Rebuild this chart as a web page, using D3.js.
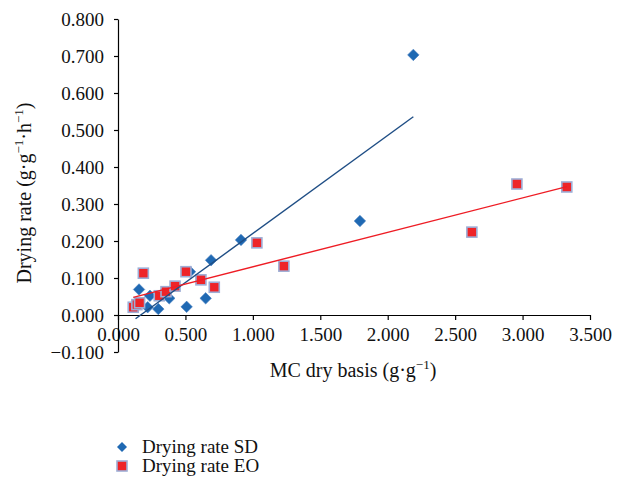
<!DOCTYPE html>
<html>
<head>
<meta charset="utf-8">
<script src="https://cdn.jsdelivr.net/npm/d3@7"></script>
<style>
  body { margin: 0; background: #fff; }
  svg { display: block; font-family: "Liberation Serif", "DejaVu Serif", serif; }
</style>
</head>
<body>
<div id="chart"></div>
<script>
// SD series (blue diamonds)
const sdX = [0.13, 0.156, 0.22, 0.237, 0.299, 0.38, 0.509, 0.534, 0.65, 0.69, 0.912, 1.794, 2.19];
const sdY = [0.030, 0.069, 0.021, 0.052, 0.016, 0.045, 0.022, 0.117, 0.045, 0.148, 0.203, 0.254, 0.703];

// EO series (red squares)
const eoX = [0.113, 0.14, 0.16, 0.188, 0.306, 0.356, 0.423, 0.504, 0.615, 0.714, 1.03, 1.23, 2.624, 2.958, 3.328];
const eoY = [0.021, 0.028, 0.033, 0.113, 0.052, 0.063, 0.078, 0.117, 0.095, 0.075, 0.195, 0.132, 0.224, 0.354, 0.346];

const xTicks = [0, 0.5, 1, 1.5, 2, 2.5, 3, 3.5];
const yTicks = [-0.1, 0, 0.1, 0.2, 0.3, 0.4, 0.5, 0.6, 0.7, 0.8];

const width = 628;
const height = 485;

const x = d3.scaleLinear().domain([0, 3.5]).range([118, 590]);
const y = d3.scaleLinear().domain([-0.1, 0.8]).range([352, 19]);

const svg = d3.create("svg")
    .attr("width", width)
    .attr("height", height);

const sd = sdX.map((v, i) => ({ x: v, y: sdY[i] }));
const eo = eoX.map((v, i) => ({ x: v, y: eoY[i] }));

// least squares fit, drawn over the x range of the series
function linearFit(pts) {
    const mx = d3.mean(pts, d => d.x);
    const my = d3.mean(pts, d => d.y);
    const sxy = d3.sum(pts, d => (d.x - mx) * (d.y - my));
    const sxx = d3.sum(pts, d => (d.x - mx) ** 2);
    const b = sxy / sxx;
    const a = my - b * mx;
    const [x0, x1] = d3.extent(pts, d => d.x);
    return [{ x: x0, y: a + b * x0 }, { x: x1, y: a + b * x1 }];
}

// axes
const xAxis = svg.append("g")
    .attr("transform", `translate(0,${y(0)})`)
    .call(d3.axisBottom(x).tickValues(xTicks).tickFormat(d3.format(".3f")).tickSize(5).tickPadding(8).tickSizeOuter(0));

const yAxis = svg.append("g")
    .attr("transform", `translate(${x(0)},0)`)
    .call(d3.axisLeft(y).tickValues(yTicks).tickFormat(d3.format(".3f")).tickSize(4).tickPadding(10).tickSizeOuter(0));

[xAxis, yAxis].forEach(g => {
    g.selectAll("path, line").attr("stroke", "#000").attr("stroke-width", 1.2);
    g.selectAll("text")
        .attr("fill", "#111")
        .attr("font-size", "19px")
        .attr("font-family", "Liberation Serif, DejaVu Serif, serif");
});

// markers
const diamond = d3.symbol().type(d3.symbolDiamond2).size(84);

svg.append("g")
    .selectAll("path")
    .data(sd)
    .join("path")
    .attr("d", diamond)
    .attr("transform", d => `translate(${x(d.x)},${y(d.y)})`)
    .attr("fill", "#1f69b3")
    .attr("stroke", "#4a7fbf")
    .attr("stroke-width", 0.6);

svg.append("g")
    .selectAll("rect")
    .data(eo)
    .join("rect")
    .attr("x", d => x(d.x) - 5)
    .attr("y", d => y(d.y) - 5)
    .attr("width", 10)
    .attr("height", 10)
    .attr("fill", "#ee2428")
    .attr("stroke", "#9eaed6")
    .attr("stroke-width", 1.6);

// trend lines
const line = d3.line().x(d => x(d.x)).y(d => y(d.y));

svg.append("path")
    .attr("d", line(linearFit(sd)))
    .attr("fill", "none")
    .attr("stroke", "#1f4e85")
    .attr("stroke-width", 1.4);

svg.append("path")
    .attr("d", line(linearFit(eo)))
    .attr("fill", "none")
    .attr("stroke", "#ee1c24")
    .attr("stroke-width", 1.4);

// axis titles
const xTitle = svg.append("text")
    .attr("x", 353)
    .attr("y", 377)
    .attr("text-anchor", "middle")
    .attr("font-size", "20px")
    .attr("fill", "#111");
xTitle.append("tspan").text("MC dry basis (g·g");
xTitle.append("tspan").attr("dy", -8).attr("font-size", "13px").text("−1");
xTitle.append("tspan").attr("dy", 8).text(")");

const yTitle = svg.append("text")
    .attr("transform", "translate(31,193) rotate(-90)")
    .attr("text-anchor", "middle")
    .attr("font-size", "20px")
    .attr("fill", "#111");
yTitle.append("tspan").text("Drying rate (g·g");
yTitle.append("tspan").attr("dy", -8).attr("font-size", "13px").text("−1");
yTitle.append("tspan").attr("dy", 8).text("·h");
yTitle.append("tspan").attr("dy", -8).attr("font-size", "13px").text("−1");
yTitle.append("tspan").attr("dy", 8).text(")");

// legend
const legend = svg.append("g");
legend.append("path")
    .attr("d", d3.symbol().type(d3.symbolDiamond2).size(64))
    .attr("transform", "translate(122,447)")
    .attr("fill", "#1f69b3");
legend.append("text")
    .attr("x", 142).attr("y", 453)
    .attr("font-size", "19px").attr("fill", "#111")
    .text("Drying rate SD");
legend.append("rect")
    .attr("x", 117).attr("y", 461).attr("width", 10).attr("height", 10)
    .attr("fill", "#ee2428").attr("stroke", "#9eaed6").attr("stroke-width", 1.6);
legend.append("text")
    .attr("x", 142).attr("y", 472)
    .attr("font-size", "19px").attr("fill", "#111")
    .text("Drying rate EO");

d3.select("#chart").node().append(svg.node());
</script>
</body>
</html>
